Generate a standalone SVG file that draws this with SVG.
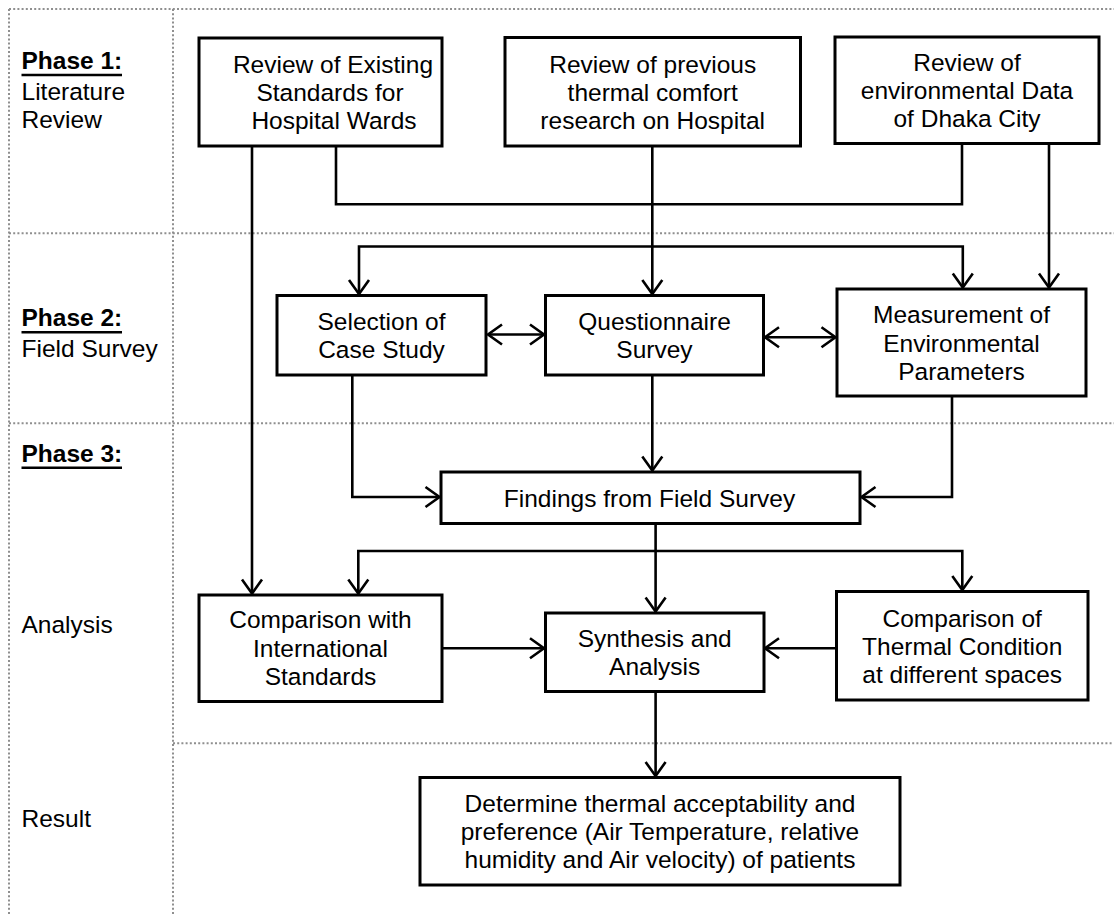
<svg xmlns="http://www.w3.org/2000/svg" width="1114" height="916" viewBox="0 0 1114 916">
  <defs>
    <style>
      .grid { fill: none; stroke: #8f8f8f; stroke-width: 2; stroke-dasharray: 2 2.2; }
      .box { fill: #ffffff; stroke: #000000; stroke-width: 3; }
      .lbl { font-family: "Liberation Sans", Arial, sans-serif; font-size: 24.5px; fill: #000000; text-anchor: middle; }
      .side { font-family: "Liberation Sans", Arial, sans-serif; font-size: 24.5px; fill: #000000; }
      .phase { font-weight: bold; }
      .uline { stroke: #000000; stroke-width: 2.5; }
      .conn { fill: none; stroke: #000000; stroke-width: 2.6; stroke-linejoin: miter; }
      .arr { marker-end: url(#ah); }
      .both { marker-start: url(#ah); marker-end: url(#ah); }
    </style>
    <marker id="ah" markerUnits="userSpaceOnUse" viewBox="-18 -13 22 26" markerWidth="22" markerHeight="26" refX="0" refY="0" orient="auto-start-reverse">
      <path d="M-14,-10 L0,0 L-14,10" fill="none" stroke="#000000" stroke-width="2.6"/>
    </marker>
  </defs>

  <!-- dotted phase grid -->
  <g id="grid">
    <path class="grid" d="M9,9 H1114"/>
    <path class="grid" d="M9,9 V916"/>
    <path class="grid" d="M173,9 V916"/>
    <path class="grid" d="M9,233.3 H1114"/>
    <path class="grid" d="M9,423.3 H1114"/>
    <path class="grid" d="M173,743.3 H1112"/>
  </g>

  <!-- phase labels in the left column -->
  <g id="phase-labels">
    <text class="side phase" x="21.5" y="68.7">Phase 1:</text>
    <line class="uline" x1="21.5" y1="75" x2="122" y2="75"/>
    <text class="side" x="21.5" y="100">Literature</text>
    <text class="side" x="21.5" y="128.3">Review</text>

    <text class="side phase" x="21.5" y="325.7">Phase 2:</text>
    <line class="uline" x1="21.5" y1="332.3" x2="122" y2="332.3"/>
    <text class="side" x="21.5" y="356.7">Field Survey</text>

    <text class="side phase" x="21.5" y="461.7">Phase 3:</text>
    <line class="uline" x1="21.5" y1="467.7" x2="122" y2="467.7"/>
    <text class="side" x="21.5" y="633">Analysis</text>

    <text class="side" x="21.5" y="826.7">Result</text>
  </g>

  <!-- connectors -->
  <g id="connectors">
    <path class="conn arr" d="M252,146 V593.5"/>
    <path class="conn" d="M336,146 V204.3 H962 V143.5"/>
    <path class="conn arr" d="M652.3,146 V294"/>
    <path class="conn arr" d="M652.3,246.5 H359 V294"/>
    <path class="conn arr" d="M652.3,246.5 H962.8 V287.5"/>
    <path class="conn arr" d="M1049,143.5 V287.5"/>
    <path class="conn both" d="M488,334.5 H544"/>
    <path class="conn both" d="M765,337.3 H835.5"/>
    <path class="conn arr" d="M352.3,375 V497 H439.5"/>
    <path class="conn arr" d="M652.3,375 V470.5"/>
    <path class="conn arr" d="M952,396 V497 H861.5"/>
    <path class="conn arr" d="M655.6,523.5 V611.5"/>
    <path class="conn arr" d="M655.6,551 H358.3 V593.5"/>
    <path class="conn arr" d="M655.6,551 H962.3 V590"/>
    <path class="conn arr" d="M442,648.3 H544"/>
    <path class="conn arr" d="M836.5,648.3 H765"/>
    <path class="conn arr" d="M655.6,691.5 V776"/>
  </g>

  <!-- Phase 1 nodes -->
  <g id="review-standards">
    <rect class="box" x="199" y="38" width="243" height="108"/>
    <text class="lbl" x="333" y="72.7">Review of Existing</text>
    <text class="lbl" x="330" y="101">Standards for</text>
    <text class="lbl" x="334" y="129.3">Hospital Wards</text>
  </g>
  <g id="review-research">
    <rect class="box" x="505" y="37.5" width="295.5" height="108.5"/>
    <text class="lbl" x="652.7" y="72.7">Review of previous</text>
    <text class="lbl" x="652.7" y="101">thermal comfort</text>
    <text class="lbl" x="652.7" y="129.3">research on Hospital</text>
  </g>
  <g id="review-environment">
    <rect class="box" x="835" y="37" width="264" height="106.5"/>
    <text class="lbl" x="967" y="70.5">Review of</text>
    <text class="lbl" x="967" y="98.8">environmental Data</text>
    <text class="lbl" x="967" y="127">of Dhaka City</text>
  </g>

  <!-- Phase 2 nodes -->
  <g id="case-study">
    <rect class="box" x="277" y="295.5" width="209" height="79.5"/>
    <text class="lbl" x="381.5" y="330">Selection of</text>
    <text class="lbl" x="381.5" y="358.3">Case Study</text>
  </g>
  <g id="questionnaire">
    <rect class="box" x="545.5" y="295.5" width="218" height="79.5"/>
    <text class="lbl" x="654.5" y="330">Questionnaire</text>
    <text class="lbl" x="654.5" y="358.3">Survey</text>
  </g>
  <g id="measurement">
    <rect class="box" x="837" y="289" width="249" height="107"/>
    <text class="lbl" x="961.5" y="323.3">Measurement of</text>
    <text class="lbl" x="961.5" y="351.7">Environmental</text>
    <text class="lbl" x="961.5" y="380">Parameters</text>
  </g>

  <!-- Phase 3 nodes -->
  <g id="findings">
    <rect class="box" x="441" y="472" width="419" height="51.5"/>
    <text class="lbl" x="649.5" y="506.5">Findings from Field Survey</text>
  </g>
  <g id="compare-standards">
    <rect class="box" x="199" y="595" width="243" height="106.5"/>
    <text class="lbl" x="320.5" y="628.3">Comparison with</text>
    <text class="lbl" x="320.5" y="656.7">International</text>
    <text class="lbl" x="320.5" y="685">Standards</text>
  </g>
  <g id="synthesis">
    <rect class="box" x="545.5" y="613" width="218.5" height="78.5"/>
    <text class="lbl" x="654.7" y="646.7">Synthesis and</text>
    <text class="lbl" x="654.7" y="675">Analysis</text>
  </g>
  <g id="compare-thermal">
    <rect class="box" x="836.5" y="591.5" width="251.5" height="108.5"/>
    <text class="lbl" x="962.2" y="626.7">Comparison of</text>
    <text class="lbl" x="962.2" y="655">Thermal Condition</text>
    <text class="lbl" x="962.2" y="683.3">at different spaces</text>
  </g>

  <!-- Result node -->
  <g id="result">
    <rect class="box" x="420" y="777.5" width="480" height="107.5"/>
    <text class="lbl" x="660" y="811.7">Determine thermal acceptability and</text>
    <text class="lbl" x="660" y="840">preference (Air Temperature, relative</text>
    <text class="lbl" x="660" y="868.3">humidity and Air velocity) of patients</text>
  </g>
</svg>
